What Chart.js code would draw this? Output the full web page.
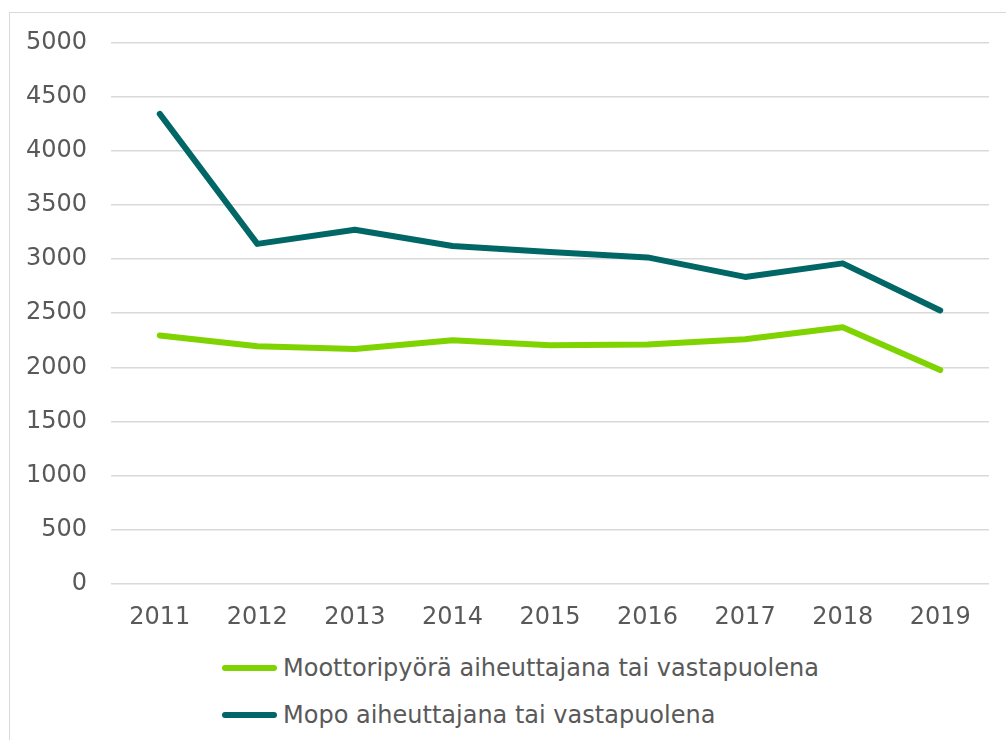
<!DOCTYPE html>
<html>
<head>
<meta charset="utf-8">
<script src="https://cdn.jsdelivr.net/npm/chart.js@4/dist/chart.umd.min.js"></script>
<style>
  html, body { margin: 0; padding: 0; background: #fff; overflow: hidden; width: 1006px; height: 740px; }
  #frame { position: absolute; left: 9px; top: 12px; width: 1020px; height: 760px; border: 1px solid #d9d9d9; }
  #wrap { position: absolute; left: 10px; top: 4px; width: 996px; height: 639px; }
  #legend { position: absolute; left: 222px; top: 644px; font-family: "DejaVu Sans", Verdana, sans-serif; font-size: 24px; color: #595959; }
  .item { height: 47px; display: flex; align-items: center; }
  .swatch { width: 55px; height: 6px; border-radius: 3px; margin-right: 6px; }
</style>
</head>
<body>
<div id="frame"></div>
<div id="wrap"><canvas id="lineChart"></canvas></div>
<div id="legend"></div>
<script>
  // values
  const years = ['2011', '2012', '2013', '2014', '2015', '2016', '2017', '2018', '2019'];
  const moottoripyora = [2295, 2195, 2170, 2250, 2205, 2210, 2260, 2370, 1975];
  const mopo = [4340, 3140, 3270, 3120, 3065, 3015, 2835, 2960, 2525];
  const seriesNames = ['Moottoripyörä aiheuttajana tai vastapuolena', 'Mopo aiheuttajana tai vastapuolena'];
  const seriesColors = ['#7fd300', '#006766'];

  const font = { family: '"DejaVu Sans", Verdana, sans-serif', size: 24 };

  const datasets = [moottoripyora, mopo].map((vals, i) => ({
    label: seriesNames[i],
    data: vals,
    borderColor: seriesColors[i],
    backgroundColor: seriesColors[i],
    borderWidth: 6,
    borderCapStyle: 'round',
    borderJoinStyle: 'round',
    pointRadius: 0,
    tension: 0,
    fill: false
  }));

  const ctx = document.getElementById('lineChart').getContext('2d');
  const lineChartInstance = new Chart(ctx, {
    type: 'line',
    data: { labels: years, datasets: datasets },
    options: {
      responsive: true,
      maintainAspectRatio: false,
      animation: false,
      layout: { padding: { top: 0, right: 17, left: 0, bottom: 0 } },
      plugins: { legend: { display: false }, tooltip: { enabled: false } },
      scales: {
        x: {
          offset: true,
          grid: { display: false, drawTicks: false },
          border: { display: false },
          ticks: { color: '#595959', font: font, padding: 19, maxRotation: 0 },
          afterFit: s => { s.height = 59; }
        },
        y: {
          min: 0,
          max: 5000,
          grid: { color: '#d9d9d9', lineWidth: 1.5, drawTicks: false },
          border: { display: false },
          ticks: { stepSize: 500, color: '#595959', font: font, padding: 24, callback: v => String(v) },
          afterFit: s => { s.width = 101; }
        }
      }
    }
  });

  // legend stacked under the chart, left aligned
  const legend = document.getElementById('legend');
  datasets.forEach(d => {
    const row = document.createElement('div');
    row.className = 'item';
    const sw = document.createElement('span');
    sw.className = 'swatch';
    sw.style.background = d.borderColor;
    const txt = document.createElement('span');
    txt.textContent = d.label;
    row.appendChild(sw);
    row.appendChild(txt);
    legend.appendChild(row);
  });
</script>
</body>
</html>
